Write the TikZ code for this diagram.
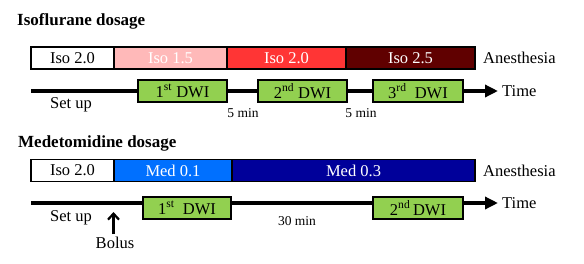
\documentclass[tikz,border=0pt]{standalone}
\usepackage{fontspec}
\setmainfont{Liberation Serif}
\usetikzlibrary{arrows.meta}
\definecolor{cpink}{HTML}{FFB9B9}
\definecolor{cred}{HTML}{FF3535}
\definecolor{cdred}{HTML}{600000}
\definecolor{cblue}{HTML}{0070FF}
\definecolor{cnavy}{HTML}{00009A}
\definecolor{cgreen}{HTML}{92D050}
\tikzset{
  seg/.style={draw=black, line width=1.6pt, minimum height=22pt, inner sep=0pt, outer sep=0pt, anchor=west, font=\fontsize{16.5}{18}\selectfont},
  dwi/.style={draw=black, line width=1.6pt, fill=cgreen, minimum height=22pt, inner sep=0pt, outer sep=0pt, anchor=west, font=\fontsize{16.5}{18}\selectfont},
  lbl/.style={font=\fontsize{16.5}{18}\selectfont, inner sep=0pt},
  sml/.style={font=\fontsize{13.5}{15}\selectfont, inner sep=0pt},
  ttl/.style={font=\bfseries\fontsize{17}{19}\selectfont, inner sep=0pt, anchor=west},
  tline/.style={line width=3.5pt, -{Triangle[length=13pt,width=12pt]}},
}
\begin{document}
\begin{tikzpicture}[x=1pt,y=-1pt]
\useasboundingbox (0,0) rectangle (584,263);
% ---------- Isoflurane ----------
\node[ttl] (t1) at (17,21) {Isoflurane dosage};
\coordinate (s1) at (31,91);
\coordinate (e1) at (498,91);
\draw[tline] (s1) -- (e1);
\node[seg, minimum width=83pt, fill=white] (a1) at (31,58) {Iso 2.0};
\node[seg, minimum width=113pt, fill=cpink, text=white] (a2) at (a1.east) {Iso 1.5};
\node[seg, minimum width=119pt, fill=cred, text=white] (a3) at (a2.east) {Iso 2.0};
\node[seg, minimum width=129pt, fill=cdred, text=white] (a4) at (a3.east) {Iso 2.5};
\node[lbl, anchor=west] (an1) at (483,58) {Anesthesia};
\node[dwi, minimum width=89pt] (d1) at (138,91) {1\textsuperscript{st} DWI};
\node[dwi, minimum width=89pt] (d2) at (258,91) {2\textsuperscript{nd} DWI};
\node[dwi, minimum width=90pt] (d3) at (373,91) {3\textsuperscript{rd}\ \ DWI};
\node[lbl, anchor=west] (ti1) at (502,91) {Time};
\node[lbl] (su1) at (71,105) {Set up};
\node[sml] (m1) at (243,113) {5 min};
\node[sml] (m2) at (361,113) {5 min};
% ---------- Medetomidine ----------
\node[ttl] (t2) at (18,143) {Medetomidine dosage};
\coordinate (s2) at (31,203);
\coordinate (e2) at (498,203);
\draw[tline] (s2) -- (e2);
\node[seg, minimum width=83pt, fill=white] (b1) at (31,170.5) {Iso 2.0};
\node[seg, minimum width=118pt, fill=cblue, text=white] (b2) at (b1.east) {Med 0.1};
\node[seg, minimum width=243pt, fill=cnavy, text=white] (b3) at (b2.east) {Med 0.3};
\node[lbl, anchor=west] (an2) at (483,171) {Anesthesia};
\node[dwi, minimum width=88pt] (f1) at (143,208) {1\textsuperscript{st}\ \ DWI};
\node[dwi, minimum width=90pt] (f2) at (373,208) {2\textsuperscript{nd}\,DWI};
\node[lbl, anchor=west] (ti2) at (502,203) {Time};
\node[lbl] (su2) at (71,218) {Set up};
\node[sml] (m3) at (297,221) {30 min};
\node[lbl] (bo) at (115,243) {Bolus};
\coordinate (bt) at (113.5,212);
\draw[line width=2.2pt, -{Straight Barb[length=6pt,width=11pt]}] (bo.north -| bt) ++(0,-3) -- (bt);
\end{tikzpicture}
\end{document}
